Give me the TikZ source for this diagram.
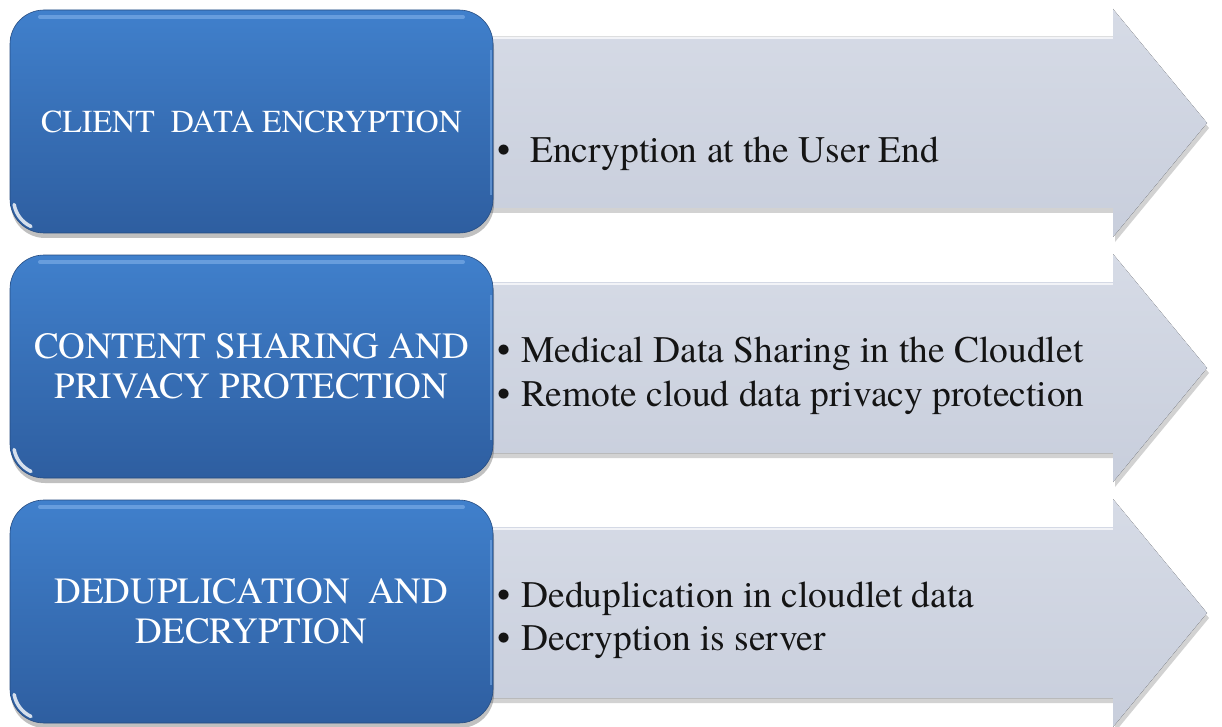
\documentclass[tikz,border=0pt]{standalone}
\usepackage{fontspec}
\setmainfont{texgyretermes-regular.otf}
\usetikzlibrary{shadows}

\definecolor{boxtop}{RGB}{64,128,204}
\definecolor{boxbot}{RGB}{46,94,160}
\definecolor{boxrim}{RGB}{120,170,230}
\definecolor{arrowtop}{RGB}{214,219,230}
\definecolor{arrowbot}{RGB}{200,206,220}
\definecolor{bodytext}{RGB}{20,20,20}

\tikzset{
  stagebox/.style={
    rounded corners=34pt, minimum width=483pt, minimum height=223pt,
    top color=boxtop, bottom color=boxbot, draw=boxbot!80!black, line width=0.6pt,
    text=white, align=center, inner sep=0pt,
    font=\fontsize{37}{40}\selectfont,
    drop shadow={shadow xshift=1pt, shadow yshift=-5pt, opacity=0.35, fill=black!70}},
  stagearrow/.style={
    top color=arrowtop, bottom color=arrowbot, draw=none,
    drop shadow={shadow xshift=2pt, shadow yshift=-5pt, opacity=0.25, fill=black!70}},
  gloss/.style={boxrim, opacity=0.7, line width=4pt, line cap=round},
  rightrim/.style={boxrim, opacity=0.6, line width=2pt},
  cornerglint/.style={white, opacity=0.8, line width=3.5pt, line cap=round},
  bullettext/.style={anchor=base west, inner sep=0pt, text=bodytext,
    font=\fontsize{37.5}{42}\selectfont},
}

\newcommand{\stagearrowpath}[1]{%
  \fill[stagearrow] (470,37+#1) -- (1113,37+#1) -- (1113,9+#1) -- (1207,123+#1)
    -- (1113,237+#1) -- (1113,208+#1) -- (470,208+#1) -- cycle;
  \draw[white, opacity=0.7, line width=2pt] (470,38.5+#1) -- (1113,38.5+#1);
}

\begin{document}
\begin{tikzpicture}[x=1pt,y=-1pt]
\useasboundingbox (0,0) rectangle (1222,727);
\fill[white] (0,0) rectangle (1222,727);

% arrows behind the blue stage boxes
\stagearrowpath{0}
\stagearrowpath{245}
\stagearrowpath{490}

% stage 1
\node[stagebox, font=\fontsize{32}{38}\selectfont] (s1) at (251.5,121.5) {CLIENT\ \ DATA ENCRYPTION};
\draw[gloss] (40,17) -- (463,17);
\draw[rightrim] (490.5,50) -- (490.5,195);
\coordinate (c1) at ([shift={(34,-34)}]s1.south west);
\draw[cornerglint] (c1) ++(170:30) arc[start angle=170, end angle=115, radius=30];
\node[bullettext] (b11) at (497,163) {•\hspace{20pt}Encryption at the User End};

% stage 2
\node[stagebox] (s2) at (251.5,366.5) {CONTENT SHARING AND\\PRIVACY PROTECTION};
\draw[gloss] (40,262) -- (463,262);
\draw[rightrim] (490.5,295) -- (490.5,440);
\coordinate (c2) at ([shift={(34,-34)}]s2.south west);
\draw[cornerglint] (c2) ++(170:30) arc[start angle=170, end angle=115, radius=30];
\node[bullettext] (b21) at (497,362) {•\hspace{11pt}Medical Data Sharing in the Cloudlet};
\node[bullettext] (b22) at (497,406) {•\hspace{11pt}Remote cloud data privacy protection};

% stage 3
\node[stagebox] (s3) at (251.5,611.5) {DEDUPLICATION\ \ AND\\DECRYPTION};
\draw[gloss] (40,507) -- (463,507);
\draw[rightrim] (490.5,540) -- (490.5,685);
\coordinate (c3) at ([shift={(34,-34)}]s3.south west);
\draw[cornerglint] (c3) ++(170:30) arc[start angle=170, end angle=115, radius=30];
\node[bullettext] (b31) at (497,607) {•\hspace{11pt}Deduplication in cloudlet data};
\node[bullettext] (b32) at (497,650) {•\hspace{11pt}Decryption is server};
\end{tikzpicture}
\end{document}
